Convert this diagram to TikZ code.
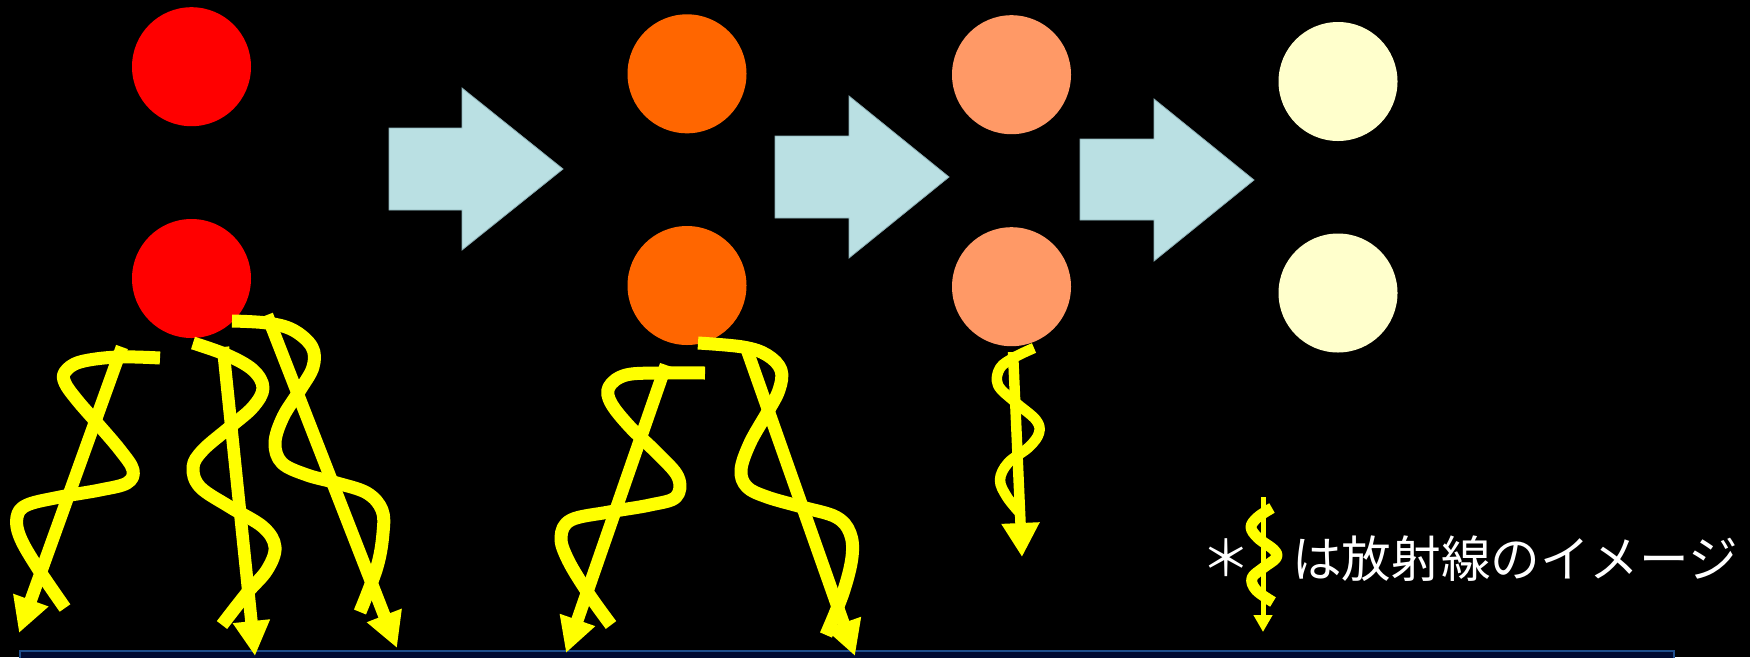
\documentclass[tikz,border=0pt]{standalone}
\usepackage{fontspec}
\newfontfamily\jp{Noto Sans CJK JP}
\usetikzlibrary{arrows.meta}
\definecolor{redc}{RGB}{255,0,0}
\definecolor{orangec}{RGB}{255,102,0}
\definecolor{salmonc}{RGB}{255,153,102}
\definecolor{creamc}{RGB}{255,255,204}
\definecolor{blockc}{RGB}{186,224,227}
\definecolor{blockedge}{RGB}{140,176,182}
\definecolor{rayc}{RGB}{255,255,0}
\definecolor{navyline}{RGB}{31,78,140}
\definecolor{navyfill}{RGB}{0,10,50}
\tikzset{
  ball/.style={circle, minimum size=119pt, inner sep=0pt, draw=none, fill=#1},
  blockarrow/.style={fill=blockc, draw=blockedge, line width=0.8pt},
  rayline/.style={draw=rayc, line width=12.5pt, -{Triangle[length=35pt,width=35pt]}},
  raywave/.style={draw=rayc, line width=13pt, line join=round},
}
\begin{document}
\begin{tikzpicture}[x=1pt,y=-1pt]
\useasboundingbox (0,0) rectangle (1750,657);
\fill[black] (0,0) rectangle (1750,657);
% bottom bar
\draw[draw=navyline, fill=navyfill, line width=2pt] (20,651) rectangle (1674,675);
% balls
\node[ball=redc] (r1) at (191.5,66.7) {};
\node[ball=redc] (r2) at (191.5,278.5) {};
\node[ball=orangec] (o1) at (687,73.8) {};
\node[ball=orangec] (o2) at (687,285.5) {};
\node[ball=salmonc] (s1) at (1011.5,74.7) {};
\node[ball=salmonc] (s2) at (1011.5,286.7) {};
\node[ball=creamc] (c1) at (1338,81.5) {};
\node[ball=creamc] (c2) at (1338,293) {};
% block arrows
\draw[blockarrow] (389,128) -- (462,128) -- (462,88) -- (563,169) -- (462,250) -- (462,210) -- (389,210) -- cycle;
\draw[blockarrow] (775,136) -- (849,136) -- (849,96) -- (949,177) -- (849,258) -- (849,218) -- (775,218) -- cycle;
\draw[blockarrow] (1080,139) -- (1154,139) -- (1154,99) -- (1254,180) -- (1154,261) -- (1154,220) -- (1080,220) -- cycle;
% rays from red
\draw[raywave] plot[smooth, tension=0.6] coordinates {(160,358) (117,357) (80,362) (65,372) (65,383) (77,400) (97,423) (120,450) (133,470) (127,483) (100,490) (60,497) (27,505) (17,517) (20,537) (37,567) (65,608)};
\draw[rayline] (122,347) -- (19,633);
\draw[raywave] plot[smooth, tension=0.6] coordinates {(193,343) (227,355) (253,370) (263,388) (253,407) (230,427) (203,450) (193,467) (200,487) (230,507) (263,527) (275,547) (267,570) (247,593) (222,625)};
\draw[rayline] (223,347) -- (255,656);
\draw[raywave] plot[smooth, tension=0.6] coordinates {(232,321) (267,323) (293,330) (312,347) (313,367) (300,390) (283,417) (275,443) (282,463) (307,475) (337,483) (367,493) (382,510) (383,533) (377,567) (360,612)};
\draw[rayline] (267,315) -- (397,648);
% rays from orange
\draw[raywave] plot[smooth, tension=0.6] coordinates {(705,373) (662,373) (626,375) (609,387) (611,403) (630,427) (657,453) (678,477) (676,497) (650,505) (609,512) (571,520) (561,537) (568,560) (588,593) (611,625)};
\draw[rayline] (666,365) -- (566,653);
\draw[raywave] plot[smooth, tension=0.6] coordinates {(698,343) (743,347) (767,355) (781,370) (779,390) (767,413) (750,443) (741,470) (747,487) (767,497) (802,507) (836,517) (850,533) (852,557) (843,593) (826,635)};
\draw[rayline] (747,350) -- (855,656);
% ray from salmon
\draw[raywave, line width=10.5pt] plot[smooth, tension=0.6] coordinates {(1034,348) (1015,357) (1000,368) (998,385) (1015,402) (1036,420) (1039,433) (1029,447) (1008,463) (1000,480) (1007,497) (1020,513)};
\draw[rayline, line width=10.5pt, -{Triangle[length=34pt,width=36pt]}] (1013,352) -- (1022,557);
% legend
\node[text=white, inner sep=0pt, font=\jp\fontsize{49.6pt}{50pt}\selectfont] (star) at (1226,558) {＊};
\draw[raywave, line width=11pt] plot[smooth, tension=0.6] coordinates {(1272,508) (1258,517) (1251,527) (1258,538) (1274,550) (1276,558) (1263,568) (1252,578) (1256,590) (1273,602)};
\coordinate (iconTop) at (1263,497);
\coordinate (iconTip) at (1263,632);
\draw[draw=rayc, line width=5pt, -{Triangle[length=17pt,width=18pt]}] (iconTop) -- (iconTip);
\node[text=white, inner sep=0pt, anchor=base west, font=\jp\fontsize{49.6pt}{50pt}\selectfont] (legend) at (1292,577) {は放射線のイメージ};
\end{tikzpicture}
\end{document}
